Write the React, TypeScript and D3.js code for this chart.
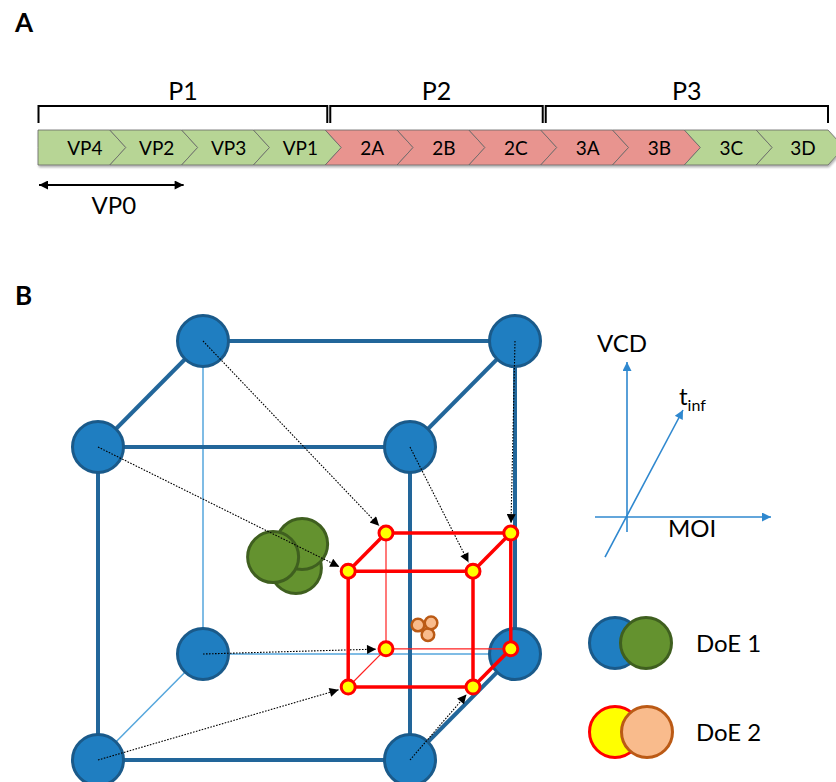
import React, { useEffect, useRef } from 'react'
import * as d3 from 'd3'

// panel A: polyprotein segments
const segLabels = ['VP4', 'VP2', 'VP3', 'VP1', '2A', '2B', '2C', '3A', '3B', '3C', '3D']
const segKinds = ['g', 'g', 'g', 'g', 'r', 'r', 'r', 'r', 'r', 'g', 'g']
const regionLabels = ['P1', 'P2', 'P3']
const regionStarts = [0, 4, 7]
const regionEnds = [4, 7, 11]
const vp0Span = [0, 2]

// panel B: design space (MOI, VCD, t_inf), scaled 0..1
const doe1Levels = [0, 1]
const doe2Moi = [0.6, 1.0]
const doe2Vcd = [0.03, 0.4]
const doe2Tinf = [0.6, 0.96]
const doe1CenterMoi = [0.466, 0.486, 0.393]
const doe1CenterVcd = [0.444, 0.521, 0.479]
const doe1CenterTinf = [0.5, 0.5, 0.5]
const doe2CenterMoi = [0.795, 0.805, 0.763]
const doe2CenterVcd = [0.136, 0.174, 0.167]
const doe2CenterTinf = [0.78, 0.78, 0.78]

const legendLabels = ['DoE 1', 'DoE 2']

const FONT = 'Lato, "Open Sans", sans-serif'
const GREEN = '#b7d595'
const PINK = '#e8948f'
const BLUE_FILL = '#1f7ec1'
const BLUE_STROKE = '#1a5a8a'
const BLUE_EDGE = '#22669a'
const BLUE_THIN = '#55a6dc'
const DOE1_GREEN = '#64922f'
const DOE1_GREEN_STROKE = '#3f5f1f'
const ORANGE = '#f9bb8c'
const ORANGE_STROKE = '#bb5a15'
const AXIS_BLUE = '#2f88cf'

const App: React.FC = () => {
  const ref = useRef<SVGSVGElement>(null)

  useEffect(() => {
    if (!ref.current) return
    const svg = d3.select(ref.current)
    svg.selectAll('*').remove()
    const width = 836
    const height = 782

    svg.append('rect').attr('width', width).attr('height', height).attr('fill', '#fff')

    const defs = svg.append('defs')
    const shadow = defs.append('filter').attr('id', 'shadow').attr('x', '-5%').attr('y', '-30%').attr('width', '110%').attr('height', '170%')
    shadow.append('feDropShadow').attr('dx', 1).attr('dy', 2).attr('stdDeviation', 1.2).attr('flood-opacity', 0.3)

    const marker = (id: string, color: string, w: number, h: number) => {
      defs.append('marker')
        .attr('id', id)
        .attr('viewBox', '0 0 10 10')
        .attr('refX', 10)
        .attr('refY', 5)
        .attr('markerUnits', 'userSpaceOnUse')
        .attr('markerWidth', w)
        .attr('markerHeight', h)
        .attr('orient', 'auto-start-reverse')
        .append('path')
        .attr('d', 'M0,0 L10,5 L0,10 Z')
        .attr('fill', color)
    }
    marker('arrBlack', '#000', 11, 9)
    marker('arrDot', '#000', 11, 9)
    marker('arrBlue', AXIS_BLUE, 11, 9)

    // ---------- panel A ----------
    svg.append('text').attr('x', 15).attr('y', 32).text('A')
      .attr('font-family', FONT).attr('font-weight', 700).attr('font-size', 26)

    const xs = d3.scaleLinear().domain([0, segLabels.length]).range([38, 828])
    const segW = xs(1) - xs(0)
    const barTop = 130
    const barBot = 165
    const barMid = (barTop + barBot) / 2
    const tip = 16

    const bar = svg.append('g').attr('filter', 'url(#shadow)')
    segLabels.forEach((lab, i) => {
      const x0 = xs(i)
      const x1 = xs(i + 1)
      const pts: [number, number][] = [
        [x0, barTop], [x1, barTop], [x1 + tip, barMid], [x1, barBot], [x0, barBot],
        [i === 0 ? x0 : x0 + tip, barMid],
      ]
      bar.append('path')
        .attr('d', d3.line()(pts) + 'Z')
        .attr('fill', segKinds[i] === 'g' ? GREEN : PINK)
        .attr('stroke', '#666')
        .attr('stroke-width', 0.8)
    })
    segLabels.forEach((lab, i) => {
      svg.append('text')
        .attr('x', xs(i) + segW / 2 + 11)
        .attr('y', 155)
        .attr('text-anchor', 'middle')
        .attr('font-family', FONT)
        .attr('font-size', 19)
        .text(lab)
    })

    regionLabels.forEach((lab, k) => {
      const a = regionStarts[k] === 0 ? xs(0) + 0.5 : xs(regionStarts[k]) + 5
      const b = regionEnds[k] === segLabels.length ? xs(regionEnds[k]) : xs(regionEnds[k]) + 2
      svg.append('path')
        .attr('d', `M${a},123 V106 H${b} V123`)
        .attr('fill', 'none')
        .attr('stroke', '#000')
        .attr('stroke-width', 2)
      svg.append('text')
        .attr('x', (a + b) / 2)
        .attr('y', 100)
        .attr('text-anchor', 'middle')
        .attr('font-family', FONT)
        .attr('font-size', 25)
        .text(lab)
    })

    const v0 = xs(vp0Span[0])
    const v1 = xs(vp0Span[1]) + 2
    svg.append('line')
      .attr('x1', v0 + 1).attr('x2', v1).attr('y1', 185).attr('y2', 185)
      .attr('stroke', '#000').attr('stroke-width', 2)
      .attr('marker-start', 'url(#arrBlack)').attr('marker-end', 'url(#arrBlack)')
    svg.append('text')
      .attr('x', (v0 + v1) / 2 + 3).attr('y', 214)
      .attr('text-anchor', 'middle').attr('font-family', FONT).attr('font-size', 24)
      .text('VP0')

    // ---------- panel B ----------
    svg.append('text').attr('x', 15).attr('y', 305).text('B')
      .attr('font-family', FONT).attr('font-weight', 700).attr('font-size', 26)

    const xMoi = d3.scaleLinear().domain([0, 1]).range([98, 410])
    const yVcd = d3.scaleLinear().domain([0, 1]).range([760, 447])
    const zx = d3.scaleLinear().domain([0, 1]).range([0, 105])
    const zy = d3.scaleLinear().domain([0, 1]).range([0, -106])
    const project = (m: number, v: number, t: number): [number, number] => [xMoi(m) + zx(t), yVcd(v) + zy(t)]

    type Corner = [number, number, number]
    const corners: Corner[] = []
    for (const a of [0, 1]) for (const b of [0, 1]) for (const c of [0, 1]) corners.push([a, b, c])
    const edges: [Corner, Corner, boolean][] = []
    corners.forEach(c => {
      for (let ax = 0; ax < 3; ax++) {
        if (c[ax] === 0) {
          const o = [...c] as Corner
          o[ax] = 1
          // hidden if it touches the back-bottom-left corner (0,0,1)
          const hidden = [c, o].some(p => p[0] === 0 && p[1] === 0 && p[2] === 1)
          edges.push([c, o, hidden])
        }
      }
    })

    const big = (c: Corner) => project(doe1Levels[c[0]], doe1Levels[c[1]], doe1Levels[c[2]])
    const small = (c: Corner) => project(doe2Moi[c[0]], doe2Vcd[c[1]], doe2Tinf[c[2]])

    const gBig = svg.append('g')
    edges.filter(e => e[2]).forEach(([a, b]) => {
      const p = big(a), q = big(b)
      gBig.append('line').attr('x1', p[0]).attr('y1', p[1]).attr('x2', q[0]).attr('y2', q[1])
        .attr('stroke', BLUE_THIN).attr('stroke-width', 1.5)
    })
    edges.filter(e => !e[2]).forEach(([a, b]) => {
      const p = big(a), q = big(b)
      gBig.append('line').attr('x1', p[0]).attr('y1', p[1]).attr('x2', q[0]).attr('y2', q[1])
        .attr('stroke', BLUE_EDGE).attr('stroke-width', 4)
    })
    corners.forEach(c => {
      const p = big(c)
      gBig.append('circle').attr('cx', p[0]).attr('cy', p[1]).attr('r', 25.5)
        .attr('fill', BLUE_FILL).attr('stroke', BLUE_STROKE).attr('stroke-width', 3)
    })

    // DoE 1 centre replicates
    doe1CenterMoi.forEach((m, i) => {
      const p = project(m, doe1CenterVcd[i], doe1CenterTinf[i])
      svg.append('circle').attr('cx', p[0]).attr('cy', p[1]).attr('r', 25.5)
        .attr('fill', DOE1_GREEN).attr('stroke', DOE1_GREEN_STROKE).attr('stroke-width', 3)
    })

    // small cube hidden edges
    const gSmall = svg.append('g')
    edges.filter(e => e[2]).forEach(([a, b]) => {
      const p = small(a), q = small(b)
      gSmall.append('line').attr('x1', p[0]).attr('y1', p[1]).attr('x2', q[0]).attr('y2', q[1])
        .attr('stroke', '#ff2020').attr('stroke-width', 1.2)
    })

    // dotted arrows from DoE 1 corners to DoE 2 corners
    corners.forEach(c => {
      const p = big(c)
      const q = small(c)
      const dx = q[0] - p[0]
      const dy = q[1] - p[1]
      const len = Math.hypot(dx, dy)
      if (len < 30) return
      const k = (len - 10) / len
      svg.append('line')
        .attr('x1', p[0]).attr('y1', p[1])
        .attr('x2', p[0] + dx * k).attr('y2', p[1] + dy * k)
        .attr('stroke', '#000').attr('stroke-width', 1.1)
        .attr('stroke-dasharray', '1.6 1.4')
        .attr('marker-end', 'url(#arrDot)')
    })

    edges.filter(e => !e[2]).forEach(([a, b]) => {
      const p = small(a), q = small(b)
      gSmall.append('line').attr('x1', p[0]).attr('y1', p[1]).attr('x2', q[0]).attr('y2', q[1])
        .attr('stroke', '#ff0000').attr('stroke-width', 3.5)
    })
    gSmall.raise()

    doe2CenterMoi.forEach((m, i) => {
      const p = project(m, doe2CenterVcd[i], doe2CenterTinf[i])
      svg.append('circle').attr('cx', p[0]).attr('cy', p[1]).attr('r', 6.3)
        .attr('fill', ORANGE).attr('stroke', ORANGE_STROKE).attr('stroke-width', 2.5)
    })

    corners.forEach(c => {
      const p = small(c)
      svg.append('circle').attr('cx', p[0]).attr('cy', p[1]).attr('r', 7)
        .attr('fill', '#ffff00').attr('stroke', '#ff0000').attr('stroke-width', 3)
    })

    // axis glyph
    const ax = svg.append('g')
    const axLines: [number, number, number, number][] = [
      [627, 532, 627, 362],
      [595, 517, 771, 517],
      [605, 557, 683, 410],
    ]
    axLines.forEach(([x1, y1, x2, y2]) => {
      ax.append('line').attr('x1', x1).attr('y1', y1).attr('x2', x2).attr('y2', y2)
        .attr('stroke', AXIS_BLUE).attr('stroke-width', 1.6)
        .attr('marker-end', 'url(#arrBlue)')
    })
    ax.append('text').attr('x', 622).attr('y', 352).attr('text-anchor', 'middle')
      .attr('font-family', FONT).attr('font-size', 24).text('VCD')
    const tl = ax.append('text').attr('x', 679).attr('y', 405)
      .attr('font-family', FONT).attr('font-size', 24)
    tl.append('tspan').text('t')
    tl.append('tspan').attr('font-size', 16).attr('dy', 6).text('inf')
    ax.append('text').attr('x', 692).attr('y', 537).attr('text-anchor', 'middle')
      .attr('font-family', FONT).attr('font-size', 24).text('MOI')

    // legend
    const legY = d3.scaleLinear().domain([0, 1]).range([643, 732])
    const legFills = [[BLUE_FILL, DOE1_GREEN], ['#ffff00', ORANGE]]
    const legStrokes = [[BLUE_STROKE, DOE1_GREEN_STROKE], ['#ff0000', ORANGE_STROKE]]
    legendLabels.forEach((lab, i) => {
      const y = legY(i)
      ;[615, 646].forEach((x, j) => {
        svg.append('circle').attr('cx', x + (i === 1 && j === 1 ? 1 : 0)).attr('cy', y).attr('r', 25.5)
          .attr('fill', legFills[i][j]).attr('stroke', legStrokes[i][j]).attr('stroke-width', 3)
      })
      svg.append('text').attr('x', 696).attr('y', y + 9)
        .attr('font-family', FONT).attr('font-size', 24).text(lab)
    })
  }, [])

  return (
    <svg
      ref={ref}
      width={836}
      height={782}
      style={{ position: 'fixed', left: 0, top: 0, display: 'block' }}
    />
  )
}

export default App
